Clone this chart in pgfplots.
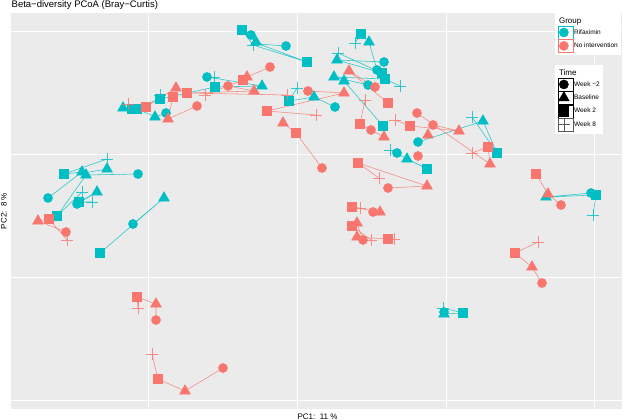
\documentclass[border=0pt]{standalone}
\usepackage{pgfplots}
\pgfplotsset{compat=1.18}
\usepackage{fontspec}
\setmainfont{Liberation Sans}
\definecolor{cy}{HTML}{00BFC4}
\definecolor{rd}{HTML}{F8766D}
\definecolor{panel}{HTML}{EBEBEB}
\pgfplotsset{
  cyl/.style={cy, line width=0.55pt, opacity=0.85, no markers},
  rdl/.style={rd, line width=0.55pt, opacity=0.85, no markers},
  circ/.style={only marks, mark=*, mark size=4.6pt, mark options={draw=none}},
  tri/.style={only marks, mark=triangle*, mark size=6.3pt, mark options={draw=none}},
  sq/.style={only marks, mark=square*, mark size=4.6pt, mark options={draw=none}},
  pl/.style={only marks, mark=+, mark size=6pt, mark options={line width=0.5pt, opacity=0.8}},
  boxsize/.style={scale only axis, width=611pt, height=396.6pt},
  legimg/.style={legend image code/.code={\path (-6pt,-6.5pt) rectangle (9pt,6.5pt); \draw[##1] plot coordinates {(0pt,0pt)};}},
}
\begin{document}
\begin{tikzpicture}
\begin{axis}[
  boxsize,
  xmin=11, xmax=622, ymin=12.7, ymax=409.3, y dir=reverse,
  axis line style={draw=none},
  tick style={draw=none},
  xtick={148,297,446,594}, ytick={31.7,154.3,277.3,400.3},
  xticklabels={}, yticklabels={},
  ticklabel style={inner sep=0pt, outer sep=0pt},
  grid=major, major grid style={white, line width=1pt},
  axis background/.style={fill=panel},
  clip=false,
]
\path (axis cs:0,0) rectangle (axis cs:624,420);
% ---- subject paths (cyan)
\addplot[cyl] coordinates {(251,35)(256,42)(242,30)(253,45)};
\addplot[cyl] coordinates {(286,46)(259,44)(307,62)(253,45)};
\addplot[cyl] coordinates {(207,77)(262,86)(215,87)(214,77)};
\addplot[cyl] coordinates {(335,107)(314,97)(289,101)(297,88)};
\addplot[cyl] coordinates {(166,113)(156,117)(137,109)};
\addplot[cyl] coordinates {(123,108)(132,109)(160,99)(215,87)};
\addplot[cyl] coordinates {(377,70)(369,42)(361,34)(355,43)};
\addplot[cyl] coordinates {(384,62)(337,60)(382,73)(338,53)};
\addplot[cyl] coordinates {(368,85)(334,77)(385,79)(400,86)};
\addplot[cyl] coordinates {(344,81)(383,126)};
\addplot[cyl] coordinates {(418,142)(483,121)(497,153)(472,117)};
\addplot[cyl] coordinates {(397,153)(407,159)(427,169)(390,150)};
\addplot[cyl] coordinates {(591,193)(546,197)(596,195)(593,215)};
\addplot[cyl] coordinates {(444,312)(444,314)(463,313)(443,308)};
\addplot[cyl] coordinates {(48,198)(82,172)(64,174)(107,159)};
\addplot[cyl] coordinates {(138,174)(86,175)(57,216)(82,192)};
\addplot[cyl] coordinates {(77,204)(97,192)(79,202)(92,202)};
\addplot[cyl] coordinates {(133,224)(164,198)(100,253)};
\addplot[cyl] coordinates {(107,169)(84,173)};
% ---- subject paths (red)
\addplot[rdl] coordinates {(223,368)(185,391)(158,379)(152,354)};
\addplot[rdl] coordinates {(156,320)(156,304)(137,297)(138,308)};
\addplot[rdl] coordinates {(66,232)(38,221)(49,219)(67,240)};
\addplot[rdl] coordinates {(542,283)(532,267)(515,253)(538,242)};
\addplot[rdl] coordinates {(561,205)(548,194)(536,174)};
\addplot[rdl] coordinates {(373,212)(380,212)(352,207)(360,208)};
\addplot[rdl] coordinates {(363,240)(357,223)(352,226)(371,240)};
\addplot[rdl] coordinates {(357,237)(388,239)(394,239)};
\addplot[rdl] coordinates {(283,123)(296,133)(322,168)};
\addplot[rdl] coordinates {(308,91)(344,93)(267,111)(316,115)};
\addplot[rdl] coordinates {(375,87)(349,71)(388,103)};
\addplot[rdl] coordinates {(371,130)(384,137)(360,124)(365,100)};
\addplot[rdl] coordinates {(417,113)(490,164)(488,147)(472,153)};
\addplot[rdl] coordinates {(433,125)(459,131)(410,126)(395,120)};
\addplot[rdl] coordinates {(388,188)(427,186)(358,163)(379,178)};
\addplot[rdl] coordinates {(270,67)(247,77)(243,80)(205,95)};
\addplot[rdl] coordinates {(228,86)(254,91)(187,93)(287,95)};
\addplot[rdl] coordinates {(197,106)(168,119)(173,97)};
\addplot[rdl] coordinates {(176,88)(146,107)(128,104)};
% ---- markers cyan
\addplot[circ, cy] coordinates {(251,35)(286,46)(207,77)(166,113)(335,107)(384,62)(377,70)(368,85)(418,142)(397,153)(591,193)(444,312)(48,198)(77,204)(138,174)(133,224)};
\addplot[tri, cy] coordinates {(256,42)(262,86)(314,97)(155,117)(123,108)(369,42)(337,60)(334,77)(344,81)(483,121)(407,159)(546,197)(444,314)(82,172)(86,175)(107,169)(97,192)(164,198)};
\addplot[sq, cy] coordinates {(242,30)(307,62)(215,87)(289,101)(160,99)(132,109)(137,109)(361,34)(382,73)(385,79)(383,126)(497,153)(427,169)(596,195)(463,313)(64,174)(79,202)(57,216)(100,253)};
\addplot[pl, cy] coordinates {(253,45)(214,77)(297,88)(355,43)(400,86)(472,117)(390,150)(593,215)(443,308)(107,159)(82,192)(92,202)(160,95)(338,53)};
% ---- markers red
\addplot[circ, rd] coordinates {(270,67)(228,86)(197,106)(308,91)(322,168)(375,87)(371,130)(417,113)(433,125)(418,156)(388,188)(373,212)(363,240)(561,205)(542,283)(156,320)(223,368)(66,232)};
\addplot[tri, rd] coordinates {(247,77)(254,91)(176,88)(168,119)(283,123)(349,71)(344,93)(384,137)(428,135)(459,131)(490,164)(427,186)(380,212)(357,223)(357,237)(548,194)(532,267)(156,304)(185,391)(38,221)};
\addplot[sq, rd] coordinates {(243,80)(187,93)(173,97)(146,107)(267,111)(296,133)(388,103)(360,124)(410,126)(488,147)(358,163)(536,174)(352,207)(352,226)(388,239)(515,253)(137,297)(158,379)(49,219)};
\addplot[pl, rd] coordinates {(128,104)(205,95)(287,95)(316,115)(365,100)(395,120)(472,153)(379,178)(360,208)(371,240)(394,239)(538,242)(138,308)(152,354)(67,240)};
% ---- titles
\node[anchor=base west, inner sep=0pt, font=\fontsize{9.5}{11}\selectfont] at (axis cs:11.5,7.8) {Beta−diversity PCoA (Bray−Curtis)};
\node[anchor=base, inner sep=0pt, font=\fontsize{8}{9}\selectfont] at (axis cs:317.5,419) {PC1:\ \ 11 \%};
\node[anchor=base, rotate=90, inner sep=0pt, font=\fontsize{8}{9}\selectfont] at (axis cs:6.5,211) {PC2:\ \ 8 \%};
\end{axis}
% Group legend
\begin{axis}[boxsize, hide axis, xmin=0, xmax=1, ymin=0, ymax=1,
  legend cell align=left,
  legend style={at={(0.8903,0.999)}, anchor=north west, draw=none, fill=white,
    font=\fontsize{6.5}{7}\selectfont, inner sep=2.5pt, row sep=0pt,
    nodes={inner sep=1pt}}]
\addlegendimage{empty legend}\addlegendentry{\hspace*{-15pt}\fontsize{8}{9}\selectfont\rule[-4.5pt]{0pt}{11pt}Group}
\addlegendimage{mark=*, mark size=4.6pt, cy, mark options={draw=none, fill=cy}, legimg}\addlegendentry{Rifaximin}
\addlegendimage{mark=*, mark size=4.6pt, rd, mark options={draw=none, fill=rd}, legimg}\addlegendentry{No intervention}
\end{axis}
% Time legend
\begin{axis}[boxsize, hide axis, xmin=0, xmax=1, ymin=0, ymax=1,
  legend cell align=left,
  legend style={at={(0.8903,0.868)}, anchor=north west, draw=none, fill=white,
    font=\fontsize{6.5}{7}\selectfont, inner sep=2.5pt, row sep=0pt,
    nodes={inner sep=1pt}}]
\addlegendimage{empty legend}\addlegendentry{\hspace*{-15pt}\fontsize{8}{9}\selectfont\rule[-4.5pt]{0pt}{11pt}Time}
\addlegendimage{mark=*, mark size=4.6pt, black, mark options={draw=none, fill=black}, legimg}\addlegendentry{Week −2}
\addlegendimage{mark=triangle*, mark size=6.3pt, black, mark options={draw=none, fill=black}, legimg}\addlegendentry{Baseline}
\addlegendimage{mark=square*, mark size=4.6pt, black, mark options={draw=none, fill=black}, legimg}\addlegendentry{Week 2}
\addlegendimage{mark=+, mark size=6pt, black!65, mark options={line width=0.5pt}, legimg}\addlegendentry{Week 8}
\end{axis}
\end{tikzpicture}
\end{document}
